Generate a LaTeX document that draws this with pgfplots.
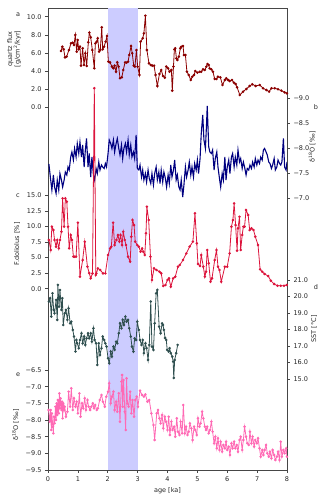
\documentclass[border=0pt]{standalone}
\usepackage{fontspec}
\setmainfont{DejaVu Sans}
\usepackage{pgfplots}
\pgfplotsset{compat=1.18}
\definecolor{cA}{RGB}{139,0,0}
\definecolor{cB}{RGB}{0,0,128}
\definecolor{cC}{RGB}{220,20,60}
\definecolor{cD}{RGB}{47,79,79}
\definecolor{cE}{RGB}{255,105,180}
\definecolor{band}{RGB}{204,204,255}
\definecolor{spine}{RGB}{70,70,70}
\pgfplotsset{
  common/.style={width=239pt,height=462pt,scale only axis,at={(0pt,0pt)},anchor=south west,
    xmin=0,xmax=8,
    tick align=outside, major tick length=3pt,
    every tick/.style={spine,line width=0.6pt},
    tick label style={font=\fontsize{6.5}{7.5}\selectfont, text=black!85},
    axis line style={spine,line width=0.9pt}},
  over/.style={common, axis line style={draw=none}, xtick=\empty},
  ser/.style={line width=0.8pt, mark=*, mark size=0.85pt},
}
\newcommand{\lab}{\fontsize{6.5}{7.5}\selectfont}
\begin{document}
\begin{tikzpicture}
\path[use as bounding box] (-48pt,-30pt) rectangle (278pt,470pt);
% panel a (base)
\begin{axis}[common, ymin=-40.03, ymax=10.96,
  xtick={0,1,2,3,4,5,6,7,8}, xticklabels={0,1,2,3,4,5,6,7,8}, xtick pos=left,
  ytick={0,2,4,6,8,10}, yticklabels={0.0,2.0,4.0,6.0,8.0,10.0}, ytick pos=left]
\addplot[draw=none, fill=band] coordinates {(2,-40.03) (3,-40.03) (3,10.96) (2,10.96)};
\addplot[ser, cA] coordinates {
(0.435,6.21)(0.48,6.69)(0.525,6.40)(0.57,5.51)(0.625,5.59)(0.70,6.32)(0.77,7.06)(0.826,7.13)(0.87,6.88)(0.915,7.98)(0.96,6.14)(0.993,7.43)(1.027,6.40)(1.07,6.69)(1.105,4.60)(1.16,6.51)(1.205,4.67)(1.25,5.96)(1.295,4.56)(1.35,7.17)(1.384,8.24)(1.43,7.72)(1.484,6.32)(1.55,4.30)(1.585,7.06)(1.63,7.24)(1.663,7.61)(1.71,6.14)(1.75,6.32)(1.80,8.82)(1.83,6.40)(1.875,6.69)(1.93,7.24)(1.975,7.87)(2.02,5.04)(2.076,4.96)(2.143,4.49)(2.19,4.30)(2.23,4.60)(2.277,3.93)(2.32,4.96)(2.366,4.49)(2.41,3.20)(2.47,3.31)(2.52,4.12)(2.58,4.96)(2.63,4.93)(2.68,5.04)(2.72,5.77)(2.78,6.76)(2.82,5.96)(2.87,4.60)(2.91,4.49)(2.96,6.32)(3.00,4.49)(3.06,3.57)(3.10,7.24)(3.17,7.61)(3.21,8.16)(3.26,10.11)(3.31,6.32)(3.38,4.85)(3.44,4.67)(3.49,4.60)(3.55,4.60)(3.60,3.57)(3.66,2.35)(3.73,3.68)(3.79,4.12)(3.85,3.46)(3.91,3.27)(3.96,4.49)(4.02,4.30)(4.07,3.93)(4.13,4.12)(4.16,1.84)(4.20,4.49)(4.23,6.40)(4.26,6.51)(4.30,5.40)(4.33,5.22)(4.38,5.59)(4.43,6.51)(4.46,6.69)(4.52,6.76)(4.55,5.77)(4.60,5.77)(4.65,3.93)(4.71,3.57)(4.78,3.01)(4.83,3.38)(4.89,3.57)(4.93,4.01)(5.00,3.82)(5.08,3.93)(5.13,3.93)(5.19,4.19)(5.25,4.12)(5.30,4.49)(5.34,4.78)(5.38,4.67)(5.41,4.30)(5.47,4.19)(5.52,3.93)(5.58,3.13)(5.64,3.13)(5.69,3.38)(5.77,3.31)(5.84,2.46)(5.92,3.01)(5.97,3.20)(6.03,3.01)(6.08,2.90)(6.16,3.01)(6.22,2.72)(6.28,2.57)(6.33,2.21)(6.42,1.36)(6.53,1.73)(6.64,2.02)(6.75,2.35)(6.84,2.54)(6.95,2.35)(7.09,2.46)(7.20,2.10)(7.31,1.91)(7.40,1.73)(7.48,2.10)(7.59,2.10)(7.70,1.99)(7.81,1.84)(7.92,1.65)(8.00,1.54)};
\end{axis}
% panel b
\begin{axis}[over, y dir=reverse, ymin=-10.81, ymax=-1.57, ytick pos=right,
  ytick={-9,-8.5,-8,-7.5,-7}, yticklabels={−9.0,−8.5,−8.0,−7.5,−7.0}]
\addplot[cB, line width=1.1pt, no marks] coordinates {
(0.03,-7.69)(0.09,-7.37)(0.13,-7.17)(0.18,-7.47)(0.22,-7.23)(0.27,-7.10)(0.31,-7.37)(0.36,-7.17)(0.40,-7.50)(0.45,-7.37)(0.49,-7.23)(0.54,-7.37)(0.58,-7.53)(0.63,-7.47)(0.67,-7.63)(0.71,-7.57)(0.76,-7.83)(0.80,-7.93)(0.85,-7.77)(0.89,-8.00)(0.94,-7.83)(0.98,-8.10)(1.03,-7.90)(1.07,-8.13)(1.12,-7.83)(1.16,-8.07)(1.21,-7.63)(1.25,-7.97)(1.29,-8.20)(1.34,-7.63)(1.38,-7.90)(1.43,-7.43)(1.47,-7.83)(1.52,-7.47)(1.56,-7.37)(1.61,-7.60)(1.65,-7.50)(1.70,-7.73)(1.74,-7.57)(1.79,-7.67)(1.83,-7.63)(1.88,-7.60)(1.92,-7.70)(1.96,-7.63)(2.01,-7.90)(2.05,-8.17)(2.10,-8.10)(2.14,-8.00)(2.19,-8.17)(2.23,-7.93)(2.28,-8.10)(2.32,-8.20)(2.37,-8.00)(2.41,-7.87)(2.46,-8.07)(2.50,-7.80)(2.54,-8.00)(2.59,-8.10)(2.63,-7.93)(2.68,-8.17)(2.72,-7.87)(2.77,-8.07)(2.81,-7.83)(2.86,-7.93)(2.90,-7.80)(2.95,-8.27)(2.99,-7.60)(3.04,-7.57)(3.08,-7.67)(3.13,-7.43)(3.17,-7.57)(3.21,-7.37)(3.26,-7.50)(3.30,-7.33)(3.35,-7.57)(3.39,-7.40)(3.44,-7.30)(3.48,-7.50)(3.53,-7.27)(3.57,-7.50)(3.62,-7.63)(3.66,-7.37)(3.71,-7.53)(3.75,-7.30)(3.79,-7.57)(3.84,-7.33)(3.88,-7.53)(3.93,-7.40)(3.97,-7.23)(4.02,-7.47)(4.06,-7.30)(4.11,-7.67)(4.15,-7.43)(4.20,-7.57)(4.24,-7.77)(4.29,-7.37)(4.33,-7.47)(4.38,-7.23)(4.42,-7.17)(4.46,-7.37)(4.51,-7.03)(4.55,-7.27)(4.60,-7.63)(4.64,-7.43)(4.69,-7.57)(4.73,-7.73)(4.78,-7.47)(4.82,-7.63)(4.87,-7.43)(4.91,-7.70)(4.96,-7.57)(5.00,-7.77)(5.04,-7.50)(5.09,-7.80)(5.13,-8.30)(5.18,-8.67)(5.22,-8.17)(5.27,-8.00)(5.31,-8.53)(5.33,-8.85)(5.38,-8.03)(5.42,-7.93)(5.47,-7.90)(5.51,-7.97)(5.56,-7.57)(5.60,-7.80)(5.65,-7.93)(5.69,-7.63)(5.74,-7.40)(5.78,-7.23)(5.83,-7.50)(5.87,-7.37)(5.92,-7.83)(5.96,-7.37)(6.00,-7.63)(6.05,-7.77)(6.09,-7.50)(6.14,-7.83)(6.18,-7.90)(6.23,-7.63)(6.27,-7.83)(6.32,-7.67)(6.36,-7.97)(6.41,-7.73)(6.45,-7.80)(6.50,-7.60)(6.54,-7.73)(6.58,-7.63)(6.63,-7.47)(6.67,-7.60)(6.72,-7.57)(6.76,-7.67)(6.81,-7.60)(6.85,-7.73)(6.90,-7.63)(6.94,-7.80)(6.99,-7.67)(7.03,-7.77)(7.08,-7.70)(7.12,-7.83)(7.17,-7.77)(7.21,-7.97)(7.25,-8.00)(7.30,-7.93)(7.34,-7.87)(7.39,-7.73)(7.43,-7.70)(7.48,-7.60)(7.52,-7.67)(7.57,-7.80)(7.61,-7.57)(7.66,-7.63)(7.70,-7.77)(7.75,-7.70)(7.79,-7.67)(7.83,-7.73)(7.88,-8.20)(7.92,-7.63)(7.97,-7.57)(8.00,-7.73)};
\end{axis}
% panel c
\begin{axis}[over, ymin=-29.12, ymax=45.08, ytick pos=left,
  ytick={0,2.5,5,7.5,10,12.5,15}, yticklabels={0.0,2.5,5.0,7.5,10.0,12.5,15.0}]
\addplot[ser, cC] coordinates {
(0.03,7.82)(0.09,6.21)(0.13,9.96)(0.18,9.42)(0.22,7.82)(0.27,6.75)(0.31,7.82)(0.36,6.48)(0.40,7.82)(0.45,9.15)(0.49,14.51)(0.54,9.96)(0.58,14.51)(0.63,13.97)(0.67,9.96)(0.71,6.48)(0.76,8.62)(0.80,7.82)(0.85,5.14)(0.89,5.14)(0.94,5.14)(1.00,10.60)(1.07,1.93)(1.16,4.60)(1.23,7.55)(1.32,3.53)(1.38,2.50)(1.43,1.66)(1.49,2.46)(1.55,32.2)(1.60,2.20)(1.62,2.46)(1.67,3.27)(1.75,3.00)(1.84,2.46)(1.92,2.46)(2.01,5.41)(2.08,6.48)(2.12,6.75)(2.18,10.60)(2.23,7.01)(2.29,7.82)(2.34,8.62)(2.39,7.55)(2.43,8.62)(2.48,7.01)(2.52,9.15)(2.57,7.82)(2.61,7.01)(2.68,5.14)(2.75,4.34)(2.79,8.35)(2.83,11.03)(2.88,10.22)(2.92,7.55)(2.99,7.01)(3.04,6.75)(3.10,5.94)(3.15,6.48)(3.19,5.94)(3.24,5.41)(3.28,8.89)(3.31,13.17)(3.37,11.03)(3.43,5.14)(3.48,1.39)(3.55,3.27)(3.63,3.00)(3.73,2.73)(3.79,2.46)(3.86,0.43)(3.93,0.59)(4.00,1.39)(4.05,1.66)(4.11,0.32)(4.19,1.66)(4.26,1.93)(4.35,3.53)(4.41,3.80)(4.52,4.60)(4.63,5.67)(4.74,6.75)(4.85,7.55)(4.92,12.10)(4.98,7.28)(5.02,3.96)(5.09,3.64)(5.13,5.41)(5.20,3.53)(5.25,1.93)(5.29,2.73)(5.33,6.21)(5.38,4.07)(5.44,1.12)(5.49,1.66)(5.58,4.60)(5.64,6.21)(5.69,3.53)(5.74,3.00)(5.80,1.12)(5.92,3.53)(6.00,3.53)(6.08,5.67)(6.14,9.96)(6.19,11.03)(6.23,13.70)(6.28,10.22)(6.33,6.10)(6.36,9.69)(6.41,11.56)(6.45,6.21)(6.50,8.62)(6.54,9.96)(6.58,9.96)(6.63,12.63)(6.70,11.83)(6.75,9.42)(6.81,9.69)(6.88,9.42)(6.94,8.35)(7.03,7.01)(7.10,3.10)(7.17,2.73)(7.25,2.36)(7.37,2.03)(7.46,1.28)(7.57,0.75)(7.68,0.48)(7.79,0.48)(7.90,0.48)(7.99,0.59)};
\end{axis}
% panel d
\begin{axis}[over, ymin=9.48, ymax=37.48, ytick pos=right,
  ytick={15,16,17,18,19,20,21}, yticklabels={15.0,16.0,17.0,18.0,19.0,20.0,21.0}]
\addplot[ser, cD] coordinates {
(0.03,19.69)(0.07,19.89)(0.11,18.78)(0.15,20.19)(0.19,19.18)(0.22,18.98)(0.27,19.79)(0.31,18.58)(0.33,20.70)(0.37,19.38)(0.40,20.39)(0.45,19.18)(0.48,19.89)(0.51,18.27)(0.56,18.98)(0.60,19.18)(0.65,18.58)(0.69,19.28)(0.74,18.37)(0.78,18.47)(0.83,17.97)(0.87,17.57)(0.92,16.66)(0.95,17.36)(0.98,17.16)(1.03,16.86)(1.07,17.36)(1.12,17.77)(1.16,17.16)(1.21,17.57)(1.25,17.06)(1.29,17.46)(1.34,17.77)(1.38,17.46)(1.43,17.77)(1.47,17.26)(1.52,18.07)(1.56,17.36)(1.61,17.16)(1.65,15.85)(1.70,17.16)(1.74,16.45)(1.79,16.86)(1.83,17.57)(1.88,17.36)(1.92,17.16)(1.96,16.96)(2.01,16.25)(2.05,15.95)(2.10,16.66)(2.14,16.35)(2.19,16.96)(2.23,16.76)(2.28,17.26)(2.32,17.16)(2.37,17.77)(2.41,18.37)(2.46,18.07)(2.50,18.58)(2.54,18.27)(2.59,18.78)(2.63,18.47)(2.68,18.58)(2.72,18.07)(2.77,17.57)(2.81,16.96)(2.86,16.66)(2.90,17.46)(2.95,17.36)(2.99,18.47)(3.04,17.97)(3.08,17.36)(3.13,17.06)(3.17,17.36)(3.21,16.56)(3.26,17.16)(3.30,16.86)(3.35,16.15)(3.39,17.06)(3.44,19.69)(3.48,16.96)(3.53,16.76)(3.57,18.37)(3.62,20.19)(3.66,20.39)(3.72,18.17)(3.77,17.77)(3.82,18.37)(3.85,18.27)(3.88,17.97)(3.92,17.48)(3.96,17.36)(3.99,16.76)(4.04,16.66)(4.07,16.86)(4.11,16.56)(4.16,16.35)(4.19,16.05)(4.21,15.06)(4.24,16.15)(4.29,16.56)(4.34,17.06)};
\end{axis}
% panel e
\begin{axis}[over, ymin=-9.5, ymax=4.36, ytick pos=left,
  ytick={-9.5,-9,-8.5,-8,-7.5,-7,-6.5}, yticklabels={−9.5,−9.0,−8.5,−8.0,−7.5,−7.0,−6.5}]
\addplot[ser, cE] coordinates {
(0.02,-7.70)(0.06,-8.05)(0.09,-7.70)(0.11,-8.30)(0.13,-7.80)(0.16,-8.20)(0.18,-8.40)(0.20,-7.90)(0.22,-8.10)(0.25,-7.60)(0.27,-8.00)(0.29,-7.50)(0.31,-7.85)(0.33,-7.40)(0.36,-7.80)(0.38,-7.20)(0.40,-7.65)(0.42,-7.35)(0.45,-7.70)(0.47,-7.45)(0.49,-7.95)(0.51,-7.50)(0.54,-7.70)(0.56,-7.60)(0.60,-7.90)(0.65,-7.75)(0.69,-7.15)(0.74,-7.60)(0.78,-7.05)(0.83,-7.70)(0.87,-7.35)(0.92,-7.60)(0.96,-7.45)(1.00,-7.80)(1.05,-7.20)(1.09,-7.90)(1.14,-7.50)(1.18,-7.65)(1.23,-7.35)(1.27,-7.70)(1.32,-7.40)(1.36,-7.60)(1.41,-7.70)(1.45,-7.60)(1.50,-7.50)(1.54,-7.65)(1.58,-7.55)(1.63,-7.70)(1.67,-7.65)(1.73,-7.40)(1.79,-7.25)(1.84,-7.45)(1.90,-7.60)(1.95,-7.30)(2.01,-7.15)(2.05,-6.90)(2.10,-7.50)(2.14,-7.30)(2.19,-7.15)(2.23,-7.70)(2.28,-7.45)(2.32,-7.75)(2.37,-7.20)(2.41,-8.05)(2.46,-6.85)(2.48,-6.65)(2.50,-7.60)(2.53,-6.80)(2.57,-7.75)(2.60,-8.30)(2.63,-6.75)(2.66,-7.50)(2.70,-7.60)(2.75,-7.15)(2.79,-7.80)(2.83,-7.40)(2.88,-7.90)(2.92,-7.40)(2.97,-7.30)(3.01,-7.60)(3.08,-7.12)(3.15,-7.25)(3.21,-7.30)(3.26,-7.23)(3.33,-7.45)(3.39,-7.40)(3.46,-7.80)(3.53,-8.15)(3.57,-8.60)(3.64,-7.80)(3.68,-7.70)(3.73,-7.95)(3.77,-8.10)(3.82,-7.85)(3.86,-8.25)(3.91,-7.90)(3.95,-8.05)(4.00,-8.30)(4.04,-7.90)(4.08,-8.45)(4.13,-8.05)(4.17,-8.30)(4.22,-8.20)(4.26,-8.50)(4.31,-7.95)(4.35,-8.35)(4.40,-8.45)(4.44,-8.05)(4.49,-8.40)(4.53,-7.55)(4.58,-8.40)(4.62,-8.20)(4.67,-8.45)(4.71,-8.35)(4.75,-8.10)(4.80,-8.25)(4.84,-8.60)(4.89,-8.20)(4.93,-8.30)(4.98,-8.45)(5.02,-7.95)(5.07,-8.20)(5.11,-8.10)(5.16,-7.75)(5.20,-7.95)(5.25,-8.20)(5.29,-8.30)(5.33,-8.20)(5.38,-8.40)(5.42,-8.30)(5.47,-8.05)(5.51,-8.35)(5.56,-8.70)(5.60,-8.50)(5.65,-8.85)(5.69,-8.55)(5.74,-8.90)(5.78,-8.65)(5.83,-8.95)(5.87,-8.75)(5.92,-8.85)(5.96,-8.65)(6.00,-8.90)(6.05,-8.80)(6.09,-9.05)(6.14,-8.70)(6.18,-8.85)(6.23,-8.65)(6.27,-8.85)(6.32,-8.75)(6.36,-8.95)(6.41,-8.60)(6.45,-8.50)(6.50,-8.90)(6.54,-8.60)(6.58,-8.20)(6.63,-8.50)(6.67,-8.70)(6.72,-8.75)(6.76,-8.35)(6.81,-8.70)(6.85,-8.50)(6.90,-8.80)(6.94,-8.60)(6.99,-8.70)(7.03,-8.55)(7.08,-8.85)(7.12,-9.10)(7.17,-8.90)(7.21,-9.05)(7.25,-8.90)(7.30,-8.75)(7.34,-9.00)(7.39,-9.10)(7.43,-8.95)(7.48,-9.15)(7.52,-8.90)(7.57,-9.05)(7.61,-9.20)(7.66,-9.10)(7.70,-8.95)(7.75,-9.20)(7.79,-8.65)(7.83,-9.10)(7.88,-8.90)(7.92,-9.00)(7.97,-8.85)(8.00,-9.10)};
\end{axis}
% labels
\node[text=black!85] at (-30pt,455pt) {\lab a};
\node[text=black!85, rotate=90, align=center, font=\lab] at (-34pt,421pt) {quartz flux\\{}[g/cm\textsuperscript{2}/kyr]};
\node[text=black!85] at (268pt,363pt) {\lab b};
\node[text=black!85, rotate=90, font=\lab] at (264pt,323pt) {δ\textsuperscript{18}O [‰]};
\node[text=black!85] at (-30pt,274pt) {\lab c};
\node[text=black!85, rotate=90, font=\lab] at (-31pt,226pt) {F.doliolus [\%]};
\node[text=black!85] at (268pt,183pt) {\lab d};
\node[text=black!85, rotate=90, font=\lab] at (266pt,141pt) {SST [°C]};
\node[text=black!85] at (-30pt,95pt) {\lab e};
\node[text=black!85, rotate=90, font=\lab] at (-32.5pt,45pt) {δ\textsuperscript{18}O [‰]};
\node[text=black!85, font=\lab] at (119.5pt,-21pt) {age [ka]};
\end{tikzpicture}
\end{document}
